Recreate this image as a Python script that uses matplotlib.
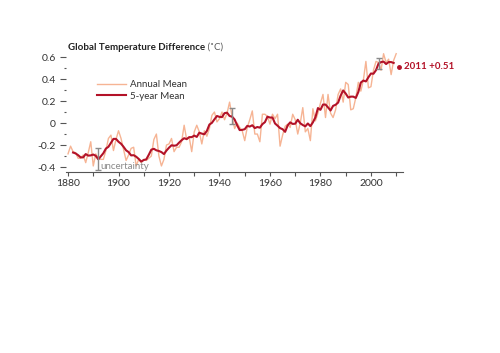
import matplotlib
matplotlib.use("Agg")
import matplotlib.pyplot as plt
from matplotlib.ticker import MultipleLocator

plt.rcParams["font.family"] = ["Lato", "DejaVu Sans"]

# GISS global temperature anomaly, annual mean (deg C)
years = list(range(1880, 2011))
annual = [
    -0.28, -0.21, -0.26, -0.27, -0.32, -0.32, -0.29, -0.36, -0.27, -0.17,
    -0.39, -0.28, -0.32, -0.33, -0.33, -0.25, -0.14, -0.11, -0.25, -0.15,
    -0.07, -0.14, -0.24, -0.34, -0.29, -0.23, -0.22, -0.39, -0.33, -0.36,
    -0.33, -0.34, -0.32, -0.30, -0.15, -0.10, -0.30, -0.39, -0.33, -0.20,
    -0.19, -0.14, -0.26, -0.22, -0.22, -0.17, -0.02, -0.15, -0.13, -0.26,
    -0.08, -0.02, -0.08, -0.19, -0.07, -0.12, -0.05, 0.07, 0.10, 0.01,
    0.04, 0.10, 0.03, 0.09, 0.19, 0.06, -0.05, 0.00, -0.04, -0.07,
    -0.16, -0.04, 0.03, 0.11, -0.10, -0.10, -0.17, 0.08, 0.08, 0.06,
    -0.01, 0.08, 0.04, 0.08, -0.21, -0.11, -0.03, -0.01, -0.04, 0.08,
    0.03, -0.10, 0.00, 0.14, -0.08, -0.05, -0.16, 0.13, 0.02, 0.09,
    0.18, 0.26, 0.05, 0.26, 0.09, 0.05, 0.12, 0.26, 0.31, 0.19,
    0.37, 0.35, 0.12, 0.13, 0.23, 0.37, 0.29, 0.39, 0.56, 0.32,
    0.33, 0.48, 0.56, 0.55, 0.48, 0.63, 0.55, 0.58, 0.44, 0.57,
    0.63,
]

# 5-year running mean
years5 = list(range(1882, 2010))
mean5 = [
    -0.268, -0.276, -0.292, -0.312, -0.312, -0.282, -0.296, -0.294,
    -0.286, -0.298, -0.330, -0.302, -0.274, -0.232, -0.216, -0.180,
    -0.144, -0.144, -0.170, -0.188, -0.216, -0.248, -0.264, -0.294,
    -0.292, -0.306, -0.326, -0.350, -0.336, -0.330, -0.288, -0.242,
    -0.234, -0.248, -0.254, -0.264, -0.282, -0.250, -0.224, -0.202,
    -0.206, -0.202, -0.178, -0.156, -0.138, -0.146, -0.128, -0.128,
    -0.114, -0.126, -0.088, -0.096, -0.102, -0.072, -0.014, 0.002,
    0.034, 0.064, 0.056, 0.054, 0.090, 0.094, 0.064, 0.058,
    0.032, -0.020, -0.064, -0.062, -0.056, -0.026, -0.032, -0.020,
    -0.046, -0.036, -0.042, -0.010, 0.008, 0.058, 0.050, 0.050,
    -0.004, -0.024, -0.046, -0.056, -0.080, -0.022, 0.006, -0.008,
    -0.006, 0.030, -0.002, -0.018, -0.030, -0.004, -0.028, 0.006,
    0.052, 0.136, 0.120, 0.168, 0.168, 0.142, 0.114, 0.156,
    0.166, 0.186, 0.250, 0.296, 0.268, 0.232, 0.240, 0.240,
    0.228, 0.282, 0.368, 0.386, 0.378, 0.416, 0.450, 0.448,
    0.480, 0.540, 0.554, 0.558, 0.536, 0.554, 0.554, 0.546,
]

# uncertainty bars
unc_years = [1892, 1945, 2003]
unc_center = [-0.325, 0.065, 0.54]
unc_half = [0.10, 0.075, 0.05]

last_year = 2011
last_value = 0.51

light = "#f6b494"
dark = "#b31228"
grey = "#8a8a8a"
txt = "#333333"

fig = plt.figure(figsize=(5, 3.53), dpi=100)
ax = fig.add_axes([0.131, 0.5127, 0.674, 0.3414])

ax.plot(years, annual, color=light, lw=1.0, label="Annual Mean")
ax.plot(years5, mean5, color=dark, lw=1.5, label="5-year Mean")

ax.errorbar(unc_years, unc_center, yerr=unc_half, fmt="none",
            ecolor=grey, elinewidth=1.0, capsize=2, capthick=1.0)
ax.text(1893, -0.395, "uncertainty", color=grey, fontsize=7,
        va="center", ha="left")

ax.plot([last_year], [last_value], "o", color=dark, ms=2.5)
ax.text(last_year + 2.2, last_value, "2011 +0.51", color=dark,
        fontsize=7, fontweight="bold", va="center", ha="left")

ax.set_xlim(1879, 2012.5)
ax.set_ylim(-0.445, 0.65)

ax.xaxis.set_major_locator(MultipleLocator(20))
ax.xaxis.set_minor_locator(MultipleLocator(10))
ax.yaxis.set_minor_locator(MultipleLocator(0.1))
ax.set_yticks([-0.4, -0.2, 0, 0.2, 0.4, 0.6])
ax.set_yticklabels(["-0.4", "-0.2", "0", "0.2", "0.4", "0.6"])

for s in ["top", "right", "left"]:
    ax.spines[s].set_visible(False)
ax.spines["bottom"].set_color("#555555")
ax.spines["bottom"].set_linewidth(0.8)

ax.tick_params(axis="x", which="major", length=3, width=0.8,
               color="#555555", labelsize=7.5, labelcolor=txt, pad=2)
ax.tick_params(axis="x", which="minor", length=3, width=0.8,
               color="#555555")
ax.tick_params(axis="y", which="major", length=4, width=0.8,
               color="#555555", labelsize=7.5, labelcolor=txt, pad=3)
ax.tick_params(axis="y", which="minor", length=1.5, width=0.8,
               color="#555555")

t = ax.text(0.008, 1.0, "Global Temperature Difference", transform=ax.transAxes,
            fontsize=7, fontweight="bold", color="#222222", ha="left", va="bottom")
ax.annotate(" (\u02daC)", xy=(1, 0), xycoords=t, fontsize=7,
            color="#555555", ha="left", va="bottom")

leg = ax.legend(loc="upper left", bbox_to_anchor=(0.08, 0.8), frameon=False,
                fontsize=7, handlelength=2.9, handletextpad=0.45,
                labelspacing=0.25, borderpad=0)
for tx in leg.get_texts():
    tx.set_color(txt)

fig.savefig("out.png", dpi=100)
